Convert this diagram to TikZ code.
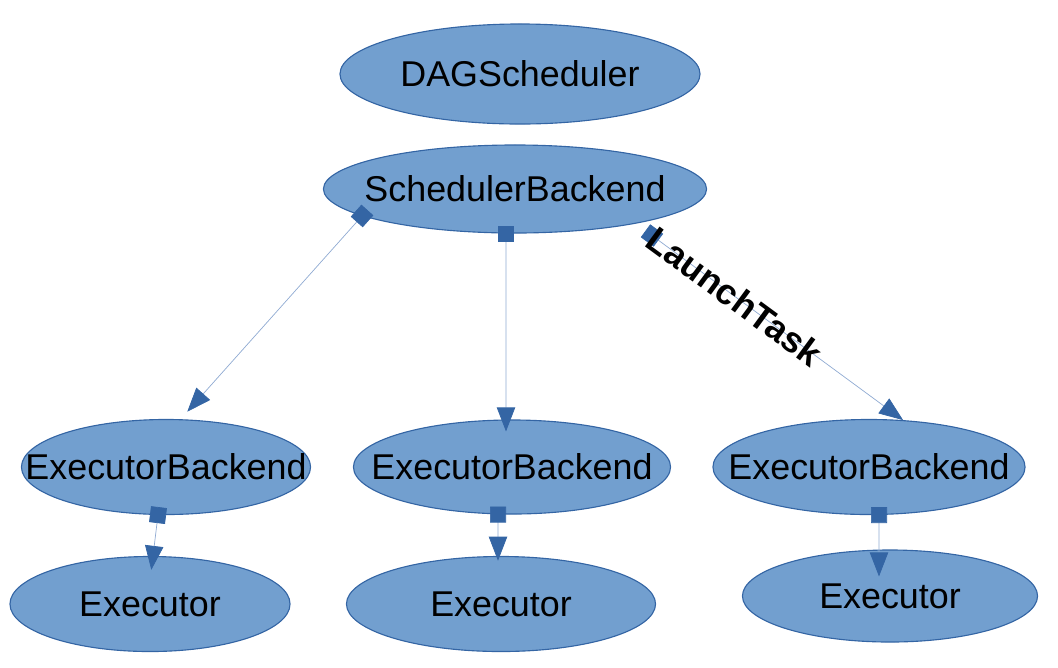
\documentclass[tikz,border=0pt]{standalone}
\usepackage{fontspec}
\setmainfont{Liberation Sans}
\usetikzlibrary{arrows.meta,shapes.geometric}
\definecolor{sparkFill}{HTML}{729FCF}
\definecolor{sparkEdge}{HTML}{3465A4}
\definecolor{sparkLine}{HTML}{8FAAD2}
\tikzset{
  every picture/.style={font=\fontsize{25.5}{30}\selectfont, text=black},
  spark blob/.style={ellipse, draw=sparkEdge, line width=0.8pt,
    fill=sparkFill, inner sep=0pt},
  spark link/.style={{Square[length=4mm,width=4mm,color=sparkEdge]}-{Triangle[length=6mm,width=4.6mm,color=sparkEdge]},
    draw=sparkLine, line width=0.5pt, shorten <=-2mm},
  spark tag/.style={font=\fontsize{25.5}{30}\selectfont\bfseries, inner sep=0pt}
}

\begin{document}
\begin{tikzpicture}[x=0.025cm,y=-0.025cm]
  \useasboundingbox (0,0) rectangle (1058,667);
  % top row
  \node[spark blob, minimum width=9cm, minimum height=2.5cm, label=center:DAGScheduler] (dag) at (520,74) {};
  \node[spark blob, minimum width=9.575cm, minimum height=2.2cm, label=center:SchedulerBackend] (sb) at (515,189) {};
  % backends
  \node[spark blob, minimum width=7.225cm, minimum height=2.375cm, label=center:ExecutorBackend] (eb1) at (166,467) {};
  \node[spark blob, minimum width=7.925cm, minimum height=2.35cm, label=center:ExecutorBackend] (eb2) at (512,467) {};
  \node[spark blob, minimum width=7.8cm, minimum height=2.375cm, label=center:ExecutorBackend] (eb3) at (869,467) {};
  % executors
  \node[spark blob, minimum width=7cm, minimum height=2.375cm, label=center:Executor] (ex1) at (150,604) {};
  \node[spark blob, minimum width=7.725cm, minimum height=2.375cm, label=center:Executor] (ex2) at (501,604) {};
  \node[spark blob, minimum width=7.375cm, minimum height=2.3cm, label=center:Executor] (ex3) at (890,596) {};

  \draw[spark link, shorten >=0.25cm] (sb.190) -- (eb1.73);
  \draw[spark link, shorten >=-0.3cm] ([xshift=-0.225cm]sb.south) -- ([xshift=-0.15cm]eb2.north);
  \draw[spark link, shorten <=0.3cm] (sb.-16) -- (eb3.54)
    node[spark tag, pos=0.37, sloped] (launch) {LaunchTask};

  \draw[spark link, shorten >=-0.35cm] ([xshift=-0.2cm]eb1.south) -- ([xshift=0.075cm]ex1.north);
  \draw[spark link, shorten >=-0.12cm] ([xshift=-0.35cm]eb2.south) -- ([xshift=-0.075cm]ex2.north);
  \draw[spark link, shorten >=-0.675cm] ([xshift=0.25cm]eb3.south) -- ([xshift=-0.275cm]ex3.north);
\end{tikzpicture}
\end{document}
